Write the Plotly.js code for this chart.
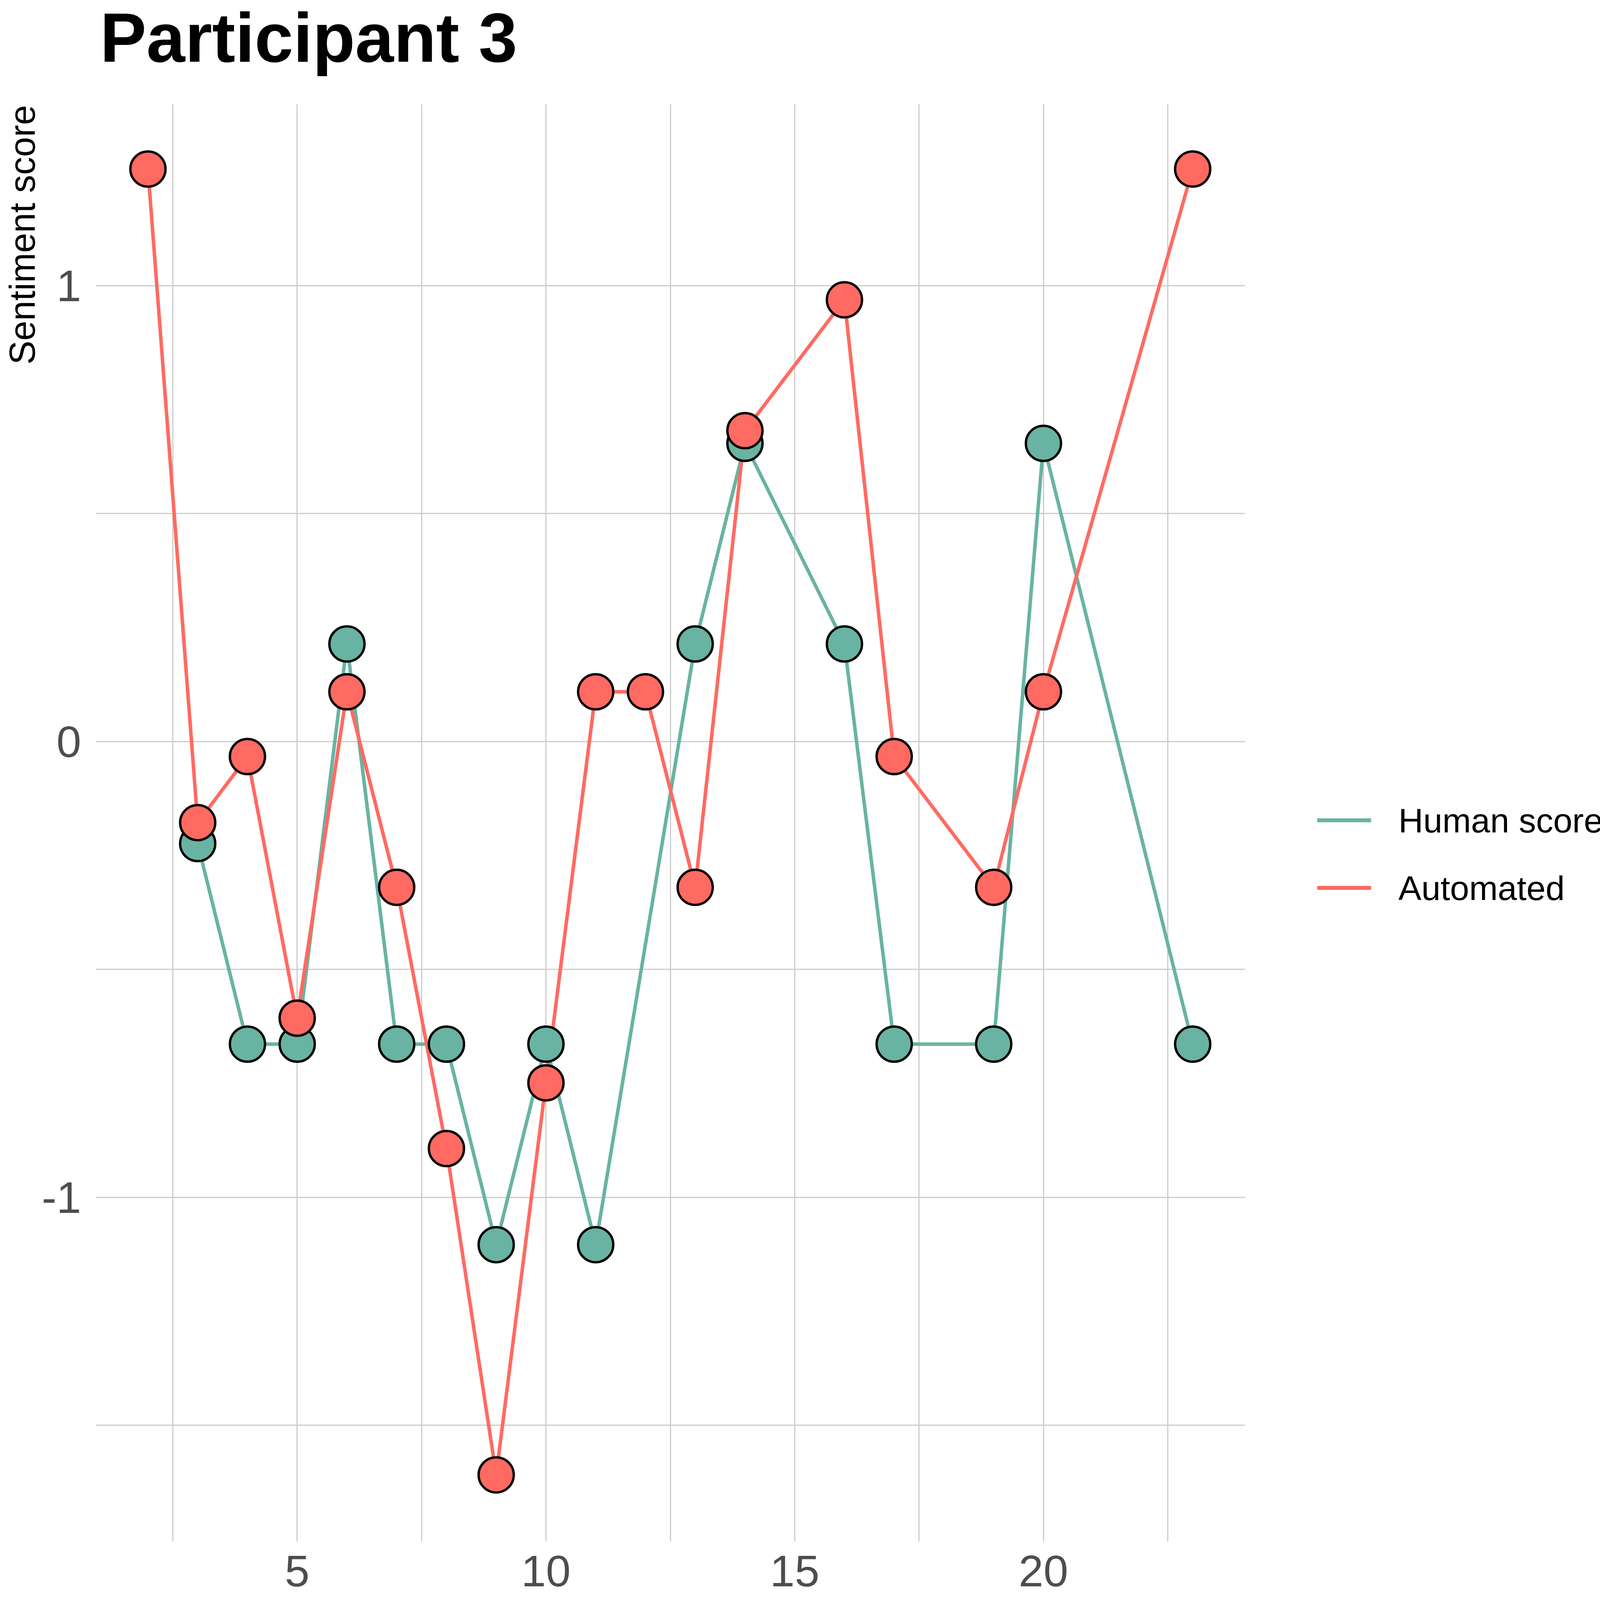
<!DOCTYPE html>
<html>
<head>
<meta charset="utf-8">
<script src="https://cdn.plot.ly/plotly-3.0.1.min.js"></script>
<style>
  html, body { margin: 0; padding: 0; background: #fff; }
  #chart { width: 4134px; height: 4191px; }
</style>
</head>
<body>
<div id="chart"></div>
<script>
// values
const transcriptHuman = [3, 4, 5, 6, 7, 8, 9, 10, 11, 13, 14, 16, 17, 19, 20, 23];
const humanScore = [-0.224, -0.664, -0.664, 0.214, -0.664, -0.664, -1.104, -0.664, -1.104, 0.214, 0.654, 0.214, -0.664, -0.664, 0.654, -0.664];

const transcriptAuto = [2, 3, 4, 5, 6, 7, 8, 9, 10, 11, 12, 13, 14, 16, 17, 19, 20, 23];
const automatedScore = [1.256, -0.178, -0.033, -0.607, 0.109, -0.320, -0.893, -1.609, -0.749, 0.109, 0.109, -0.320, 0.682, 0.969, -0.033, -0.320, 0.109, 1.256];

const seriesNames = ['Human score', 'Automated'];
const seriesColors = ['#69b3a2', '#ff6a62'];

const xTickVals = [5, 10, 15, 20];
const xMinorVals = [2.5, 7.5, 12.5, 17.5, 22.5];
const yTickVals = [-1, 0, 1];
const yTickText = ['-1', '0', '1'];
const yMinorVals = [-1.5, -0.5, 0.5];

const fontFamily = 'Liberation Sans, Arial, Helvetica, sans-serif';
const gridColor = '#cccccc';

// plot area in pixels, used to place titles / legend in paper coords
const W = 4134, H = 4191;
const plotL = 245, plotR = 3187, plotT = 267, plotB = 3946;
const px = (x) => (x - plotL) / (plotR - plotL);
const py = (y) => (plotB - y) / (plotB - plotT);

const lineTrace = (x, y, i) => ({
    x: x, y: y,
    type: 'scatter',
    mode: 'lines',
    line: { color: seriesColors[i], width: 9 },
    showlegend: false,
    hoverinfo: 'skip'
});

const pointTrace = (x, y, i) => ({
    x: x, y: y,
    type: 'scatter',
    mode: 'markers',
    name: seriesNames[i],
    marker: { color: seriesColors[i], size: 90, line: { color: '#000000', width: 6 } },
    showlegend: false
});

const data = [
    lineTrace(transcriptHuman, humanScore, 0),
    lineTrace(transcriptAuto, automatedScore, 1),
    pointTrace(transcriptHuman, humanScore, 0),
    pointTrace(transcriptAuto, automatedScore, 1)
];

// legend drawn by hand so the key lines get the long ggplot look
const legendY = [2100, 2273];
const legendShapes = seriesNames.map((n, i) => ({
    type: 'line', xref: 'paper', yref: 'paper',
    x0: px(3372), x1: px(3510), y0: py(legendY[i]), y1: py(legendY[i]),
    line: { color: seriesColors[i], width: 10 }
}));
const legendLabels = seriesNames.map((n, i) => ({
    text: n, xref: 'paper', yref: 'paper',
    x: px(3578), y: py(legendY[i]), xanchor: 'left', yanchor: 'middle',
    showarrow: false, font: { family: fontFamily, size: 88, color: '#000000' }
}));

const layout = {
    width: W,
    height: H,
    paper_bgcolor: '#ffffff',
    plot_bgcolor: '#ffffff',
    margin: { l: plotL, r: W - plotR, t: plotT, b: H - plotB, pad: 0 },
    font: { family: fontFamily },
    title: {
        text: 'Participant 3',
        font: { family: fontFamily, size: 178, weight: 700, color: '#000000' },
        xref: 'container', x: 256 / W, xanchor: 'left',
        yref: 'container', y: 1 - 96 / H, yanchor: 'middle'
    },
    xaxis: {
        range: [0.95, 24.05],
        tickvals: xTickVals,
        ticks: '',
        showline: false,
        zeroline: false,
        showgrid: true,
        gridcolor: gridColor,
        gridwidth: 3,
        minor: { tickvals: xMinorVals, showgrid: true, gridcolor: gridColor, gridwidth: 3 },
        tickfont: { family: fontFamily, size: 114, color: '#4d4d4d' },
        ticklabelstandoff: 0
    },
    yaxis: {
        range: [-1.755, 1.398],
        tickvals: yTickVals,
        ticktext: yTickText,
        ticks: '',
        showline: false,
        zeroline: false,
        showgrid: true,
        gridcolor: gridColor,
        gridwidth: 3,
        minor: { tickvals: yMinorVals, showgrid: true, gridcolor: gridColor, gridwidth: 3 },
        tickfont: { family: fontFamily, size: 114, color: '#4d4d4d' },
        ticklabelstandoff: 36
    },
    shapes: legendShapes,
    annotations: [
        {
            text: 'Sentiment score', xref: 'paper', yref: 'paper',
            x: px(56), y: 1, xanchor: 'center', yanchor: 'top', textangle: -90,
            showarrow: false, font: { family: fontFamily, size: 92, color: '#000000' }
        },
        {
            text: 'Transcript number', xref: 'paper', yref: 'paper',
            x: 1, y: py(4132), xanchor: 'right', yanchor: 'middle',
            showarrow: false, font: { family: fontFamily, size: 90, color: '#000000' }
        }
    ].concat(legendLabels),
    showlegend: false
};

Plotly.newPlot('chart', data, layout, { staticPlot: true });
</script>
</body>
</html>
